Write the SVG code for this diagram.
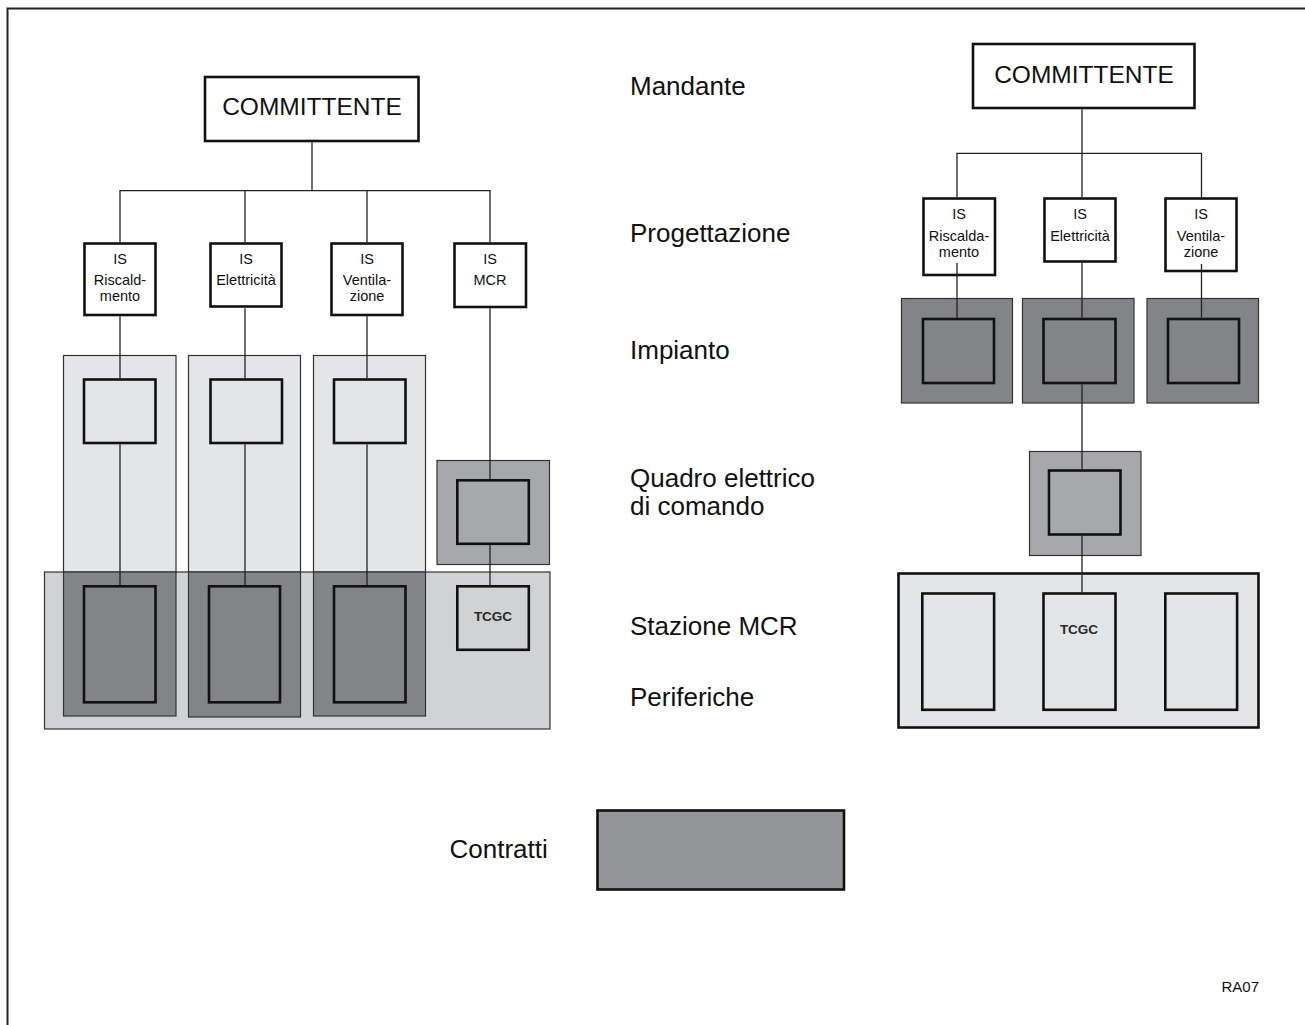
<svg xmlns="http://www.w3.org/2000/svg" width="1305" height="1025" viewBox="0 0 1305 1025">
<style>
.lab{font-family:"Liberation Sans",Arial,sans-serif;font-size:26px;fill:#111}
.big{font-family:"Liberation Sans",Arial,sans-serif;font-size:24.5px;fill:#111;text-anchor:middle}
.sm{font-family:"Liberation Sans Narrow","Liberation Sans",Arial,sans-serif;font-size:14.5px;fill:#111;text-anchor:middle}
.tc{font-family:"Liberation Sans Narrow","Liberation Sans",Arial,sans-serif;font-size:13.5px;font-weight:bold;fill:#2a2a2a;text-anchor:middle}
.box{stroke:#111;stroke-width:2.6}
.thin{stroke:#333;stroke-width:1.2}
.w{fill:#fff}
.l1{fill:#e4e5e7}
.l2{fill:#d1d2d4}
.m{fill:#a7a8ab}
.d{fill:#838488}
.c{fill:#939598}
.conn line{stroke:#222;stroke-width:1.3}
</style>
<path d="M7.5,1025 V8.5 H1305" fill="none" stroke="#222" stroke-width="2"/>

<!-- Left side backgrounds -->
<g id="left-columns">
<rect class="l1 thin" x="63.5" y="355.5" width="112.5" height="360.5"/>
<rect class="l1 thin" x="188.5" y="355.5" width="112" height="361.5"/>
<rect class="l1 thin" x="313.5" y="355.5" width="112" height="360.5"/>
</g>
<g id="left-band">
<rect class="l2 thin" x="44.5" y="572" width="505.5" height="157"/>
<rect class="d thin" x="63.5" y="572" width="112.5" height="144"/>
<rect class="d thin" x="188.5" y="572" width="112" height="145"/>
<rect class="d thin" x="313.5" y="572" width="112" height="144"/>
</g>
<g id="left-mcr-panel">
<rect class="m thin" x="437" y="460.5" width="112.5" height="104"/>
</g>

<g id="left-committente"><rect class="w box" x="205" y="77" width="213.5" height="64"/><text class="big" x="312" y="115">COMMITTENTE</text></g>
<g id="left-is-risc"><rect class="w box" x="84.5" y="243.5" width="71" height="71.5"/><text class="sm" x="120" y="264">IS</text><text class="sm" x="120" y="285">Riscald-</text><text class="sm" x="120" y="300.5">mento</text></g>
<g id="left-is-elet"><rect class="w box" x="210.5" y="243.5" width="71" height="63"/><text class="sm" x="246" y="264">IS</text><text class="sm" x="246" y="285">Elettricità</text></g>
<g id="left-is-vent"><rect class="w box" x="331.5" y="243.5" width="71" height="71.5"/><text class="sm" x="367" y="264">IS</text><text class="sm" x="367" y="285">Ventila-</text><text class="sm" x="367" y="300.5">zione</text></g>
<g id="left-is-mcr"><rect class="w box" x="454.5" y="243.5" width="71.5" height="63.5"/><text class="sm" x="490" y="264">IS</text><text class="sm" x="490" y="285">MCR</text></g>

<g id="left-imp-1"><rect class="l1 box" x="84" y="379.5" width="71.5" height="63.5"/></g>
<g id="left-imp-2"><rect class="l1 box" x="210.5" y="379.5" width="71.5" height="63.5"/></g>
<g id="left-imp-3"><rect class="l1 box" x="334" y="379.5" width="71.5" height="63.5"/></g>
<g id="left-quadro"><rect class="m box" x="457.3" y="480.3" width="71.5" height="63.5"/></g>
<g id="left-per-1"><rect class="d box" x="84" y="586.3" width="71.5" height="116"/></g>
<g id="left-per-2"><rect class="d box" x="209" y="586.3" width="71" height="116"/></g>
<g id="left-per-3"><rect class="d box" x="334" y="586.3" width="71.5" height="116"/></g>
<g id="left-tcgc"><rect class="l2 box" x="457.3" y="586.3" width="71.5" height="63.5"/><text class="tc" x="493" y="621">TCGC</text></g>

<!-- Right side -->
<g id="right-committente"><rect class="w box" x="973" y="44" width="221.5" height="64"/><text class="big" x="1084" y="82.5">COMMITTENTE</text></g>
<g id="right-is-risc"><rect class="w box" x="923.5" y="198.5" width="71.5" height="76.5"/><text class="sm" x="959" y="218.5">IS</text><text class="sm" x="959" y="240.5">Riscalda-</text><text class="sm" x="959" y="256.5">mento</text></g>
<g id="right-is-elet"><rect class="w box" x="1044.5" y="198.5" width="71" height="63"/><text class="sm" x="1080" y="218.5">IS</text><text class="sm" x="1080" y="240.5">Elettricità</text></g>
<g id="right-is-vent"><rect class="w box" x="1165.5" y="198.5" width="71" height="72.5"/><text class="sm" x="1201" y="218.5">IS</text><text class="sm" x="1201" y="240.5">Ventila-</text><text class="sm" x="1201" y="256.5">zione</text></g>

<g id="right-imp-1"><rect class="d thin" x="901.5" y="298.5" width="111" height="104.5"/><rect class="d box" x="923" y="319" width="71" height="64"/></g>
<g id="right-imp-2"><rect class="d thin" x="1022.5" y="298.5" width="111.5" height="104.5"/><rect class="d box" x="1043.5" y="319" width="72" height="64"/></g>
<g id="right-imp-3"><rect class="d thin" x="1147" y="298.5" width="111.5" height="104.5"/><rect class="d box" x="1168" y="319" width="71" height="64"/></g>
<g id="right-quadro"><rect class="m thin" x="1029.5" y="451.5" width="111.5" height="104"/><rect class="m box" x="1049" y="470.5" width="71.5" height="64"/></g>
<g id="right-periferiche"><rect class="l1 box" x="898.5" y="573.5" width="360" height="154"/>
<rect class="l1 box" x="922.3" y="593.5" width="71.8" height="116.3"/>
<rect class="l1 box" x="1043.5" y="593.5" width="72" height="116.3"/>
<rect class="l1 box" x="1165.3" y="593.5" width="71.8" height="116.3"/>
<text class="tc" x="1079" y="634">TCGC</text></g>

<g class="conn" id="connectors">
<line x1="312" y1="142.3" x2="312" y2="190.7"/>
<line x1="119.4" y1="190.7" x2="490.6" y2="190.7"/>
<line x1="120" y1="190.7" x2="120" y2="242.3"/>
<line x1="245" y1="190.7" x2="245" y2="242.3"/>
<line x1="367" y1="190.7" x2="367" y2="242.3"/>
<line x1="490" y1="190.7" x2="490" y2="242.3"/>
<line x1="120" y1="316.3" x2="120" y2="378.3"/>
<line x1="245" y1="308.3" x2="245" y2="378.3"/>
<line x1="367" y1="316.3" x2="367" y2="378.3"/>
<line x1="490" y1="308.3" x2="490" y2="479"/>
<line x1="120" y1="444.3" x2="120" y2="585"/>
<line x1="245" y1="444.3" x2="245" y2="585"/>
<line x1="367" y1="444.3" x2="367" y2="585"/>
<line x1="490" y1="545.1" x2="490" y2="585"/>
<line x1="1082" y1="109.3" x2="1082" y2="153.3"/>
<line x1="956.4" y1="153.3" x2="1202" y2="153.3"/>
<line x1="957" y1="153.3" x2="957" y2="197.3"/>
<line x1="1082" y1="153.3" x2="1082" y2="197.3"/>
<line x1="1201.5" y1="153.3" x2="1201.5" y2="197.3"/>
<line x1="957" y1="263" x2="957" y2="317.7"/>
<line x1="1082" y1="262.8" x2="1082" y2="317.7"/>
<line x1="1201.5" y1="264" x2="1201.5" y2="317.7"/>
<line x1="1082" y1="384.3" x2="1082" y2="469.3"/>
<line x1="1082" y1="535.8" x2="1082" y2="592.3"/>
</g>

<g id="legend-contratti"><rect class="c box" x="597.5" y="810.5" width="246.5" height="79"/></g>

<g id="row-labels">
<text class="lab" x="630" y="95">Mandante</text>
<text class="lab" x="630" y="241.5">Progettazione</text>
<text class="lab" x="630" y="358.5">Impianto</text>
<text class="lab" x="630" y="486.5">Quadro elettrico</text>
<text class="lab" x="630" y="515">di comando</text>
<text class="lab" x="630" y="635">Stazione MCR</text>
<text class="lab" x="630" y="706">Periferiche</text>
<text class="lab" x="449.5" y="857.5">Contratti</text>
</g>
<text x="1221.5" y="991.5" font-family="Liberation Sans, Arial, sans-serif" font-size="15" fill="#111">RA07</text>
</svg>
